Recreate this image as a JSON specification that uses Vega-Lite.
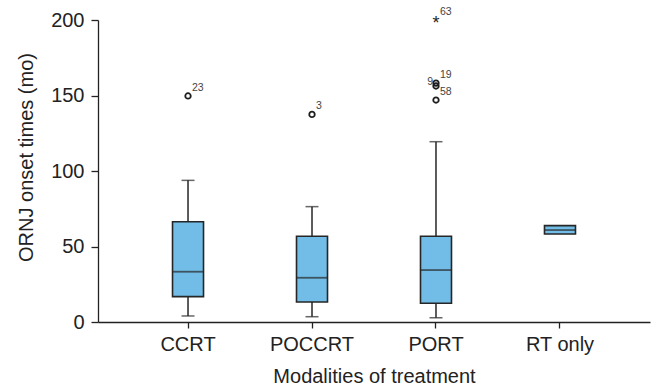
{
  "$schema": "https://vega.github.io/schema/vega-lite/v6.json",
  "width": 552,
  "height": 302,
  "autosize": {"type": "none"},
  "padding": {"left": 98, "top": 20, "right": 4, "bottom": 67},
  "background": "white",
  "config": {
    "view": {"stroke": null},
    "font": "Liberation Sans",
    "axis": {"grid": false, "domainColor": "#222", "tickColor": "#222", "labelColor": "#222", "titleColor": "#222", "labelFont": "Liberation Sans", "titleFont": "Liberation Sans", "labelFontSize": 20, "titleFontSize": 20, "titleFontWeight": "normal", "domainWidth": 1.3, "tickWidth": 1.3}
  },
  "data": {
    "values": [
      {"modality": "CCRT", "part": "box", "lower": 4.0, "q1": 16.8, "median": 33.3, "q3": 66.4, "upper": 93.8},
      {"modality": "POCCRT", "part": "box", "lower": 3.5, "q1": 13.2, "median": 29.3, "q3": 56.8, "upper": 76.4},
      {"modality": "PORT", "part": "box", "lower": 2.8, "q1": 12.4, "median": 34.4, "q3": 56.8, "upper": 119.4},
      {"modality": "RT only", "part": "box", "lower": 58.3, "q1": 58.3, "median": 60.9, "q3": 63.8, "upper": 63.8},
      {"modality": "CCRT", "part": "mild", "value": 149.7, "label": "23"},
      {"modality": "POCCRT", "part": "mild", "value": 137.5, "label": "3"},
      {"modality": "PORT", "part": "mild", "value": 147, "label": "58"},
      {"modality": "PORT", "part": "mild", "value": 156.3, "label": "9"},
      {"modality": "PORT", "part": "mild", "value": 158.2, "label": "19"},
      {"modality": "PORT", "part": "extreme", "value": 200, "label": "63"}
    ]
  },
  "encoding": {
    "x": {
      "field": "modality", "type": "nominal",
      "sort": ["CCRT", "POCCRT", "PORT", "RT only"],
      "scale": {"paddingInner": 0, "paddingOuter": 0.226},
      "axis": {"orient": "bottom", "title": "Modalities of treatment", "labelAngle": 0, "tickSize": 6, "labelPadding": 6, "titlePadding": 12}
    }
  },
  "layer": [
    {
      "transform": [{"filter": "datum.part == 'box'"}],
      "mark": {"type": "rule", "color": "#262626", "strokeWidth": 1.5},
      "encoding": {
        "y": {"field": "lower", "type": "quantitative", "scale": {"domain": [0, 200], "nice": false, "zero": false},
          "axis": {"title": "ORNJ onset times (mo)", "values": [0, 50, 100, 150, 200], "tickSize": 7, "labelPadding": 7, "titleX": -72, "titleY": 137, "titleBaseline": "middle", "titleAngle": -90}},
        "y2": {"field": "upper"}
      }
    },
    {
      "transform": [{"filter": "datum.part == 'box' && datum.lower < datum.q1"}],
      "mark": {"type": "tick", "orient": "horizontal", "color": "#262626", "size": 13, "thickness": 1.5},
      "encoding": {"y": {"field": "lower", "type": "quantitative"}}
    },
    {
      "transform": [{"filter": "datum.part == 'box' && datum.lower < datum.q1"}],
      "mark": {"type": "tick", "orient": "horizontal", "color": "#262626", "size": 13, "thickness": 1.5},
      "encoding": {"y": {"field": "upper", "type": "quantitative"}}
    },
    {
      "transform": [{"filter": "datum.part == 'box'"}],
      "mark": {"type": "bar", "size": 31, "fill": "#71BDE8", "stroke": "#262626", "strokeWidth": 1.6},
      "encoding": {
        "y": {"field": "q1", "type": "quantitative"},
        "y2": {"field": "q3"}
      }
    },
    {
      "transform": [{"filter": "datum.part == 'box'"}],
      "mark": {"type": "tick", "orient": "horizontal", "color": "#262626", "size": 31, "thickness": 1.8},
      "encoding": {"y": {"field": "median", "type": "quantitative"}}
    },
    {
      "transform": [{"filter": "datum.part == 'mild'"}],
      "mark": {"type": "point", "shape": "circle", "filled": false, "size": 30, "stroke": "#1e1e1e", "strokeWidth": 1.8, "opacity": 1},
      "encoding": {"y": {"field": "value", "type": "quantitative"}}
    },
    {
      "transform": [{"filter": "datum.part == 'extreme'"}],
      "mark": {"type": "text", "text": "*", "fontSize": 18, "baseline": "middle", "align": "center", "dy": 4, "color": "#262626"},
      "encoding": {"y": {"field": "value", "type": "quantitative"}}
    },
    {
      "transform": [{"filter": "datum.part != 'box' && datum.label != '9'"}],
      "mark": {"type": "text", "align": "left", "baseline": "middle", "dx": 4, "dy": -8, "fontSize": 10.5, "color": "#444"},
      "encoding": {"y": {"field": "value", "type": "quantitative"}, "text": {"field": "label", "type": "nominal"}}
    },
    {
      "transform": [{"filter": "datum.label == '9'"}],
      "mark": {"type": "text", "align": "right", "baseline": "middle", "dx": -3, "dy": -4, "fontSize": 10.5, "color": "#444"},
      "encoding": {"y": {"field": "value", "type": "quantitative"}, "text": {"field": "label", "type": "nominal"}}
    }
  ]
}
